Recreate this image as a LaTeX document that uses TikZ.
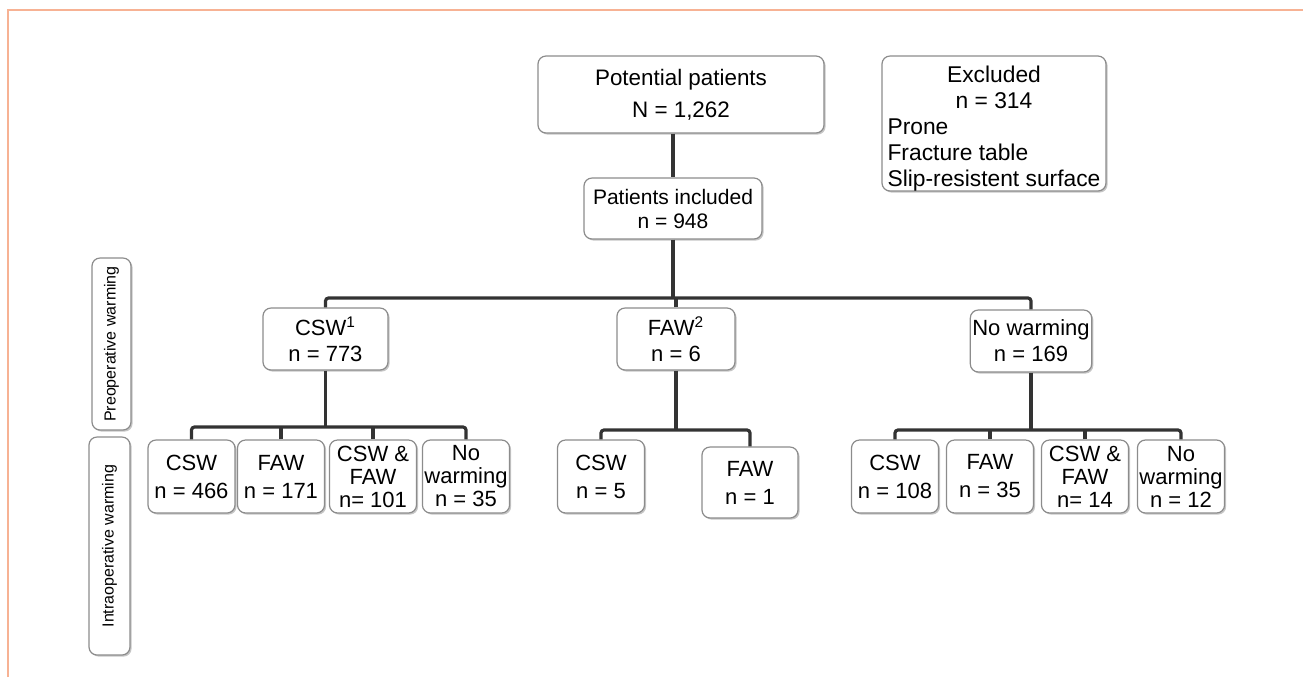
\documentclass[tikz,border=0pt]{standalone}
\usepackage{fontspec}
\setmainfont{Liberation Sans}
\usetikzlibrary{shadows}
\definecolor{framecol}{RGB}{247,178,148}

\begin{document}
\begin{tikzpicture}[x=0.5pt, y=-0.5pt,
    box/.style={draw=black!45, line width=0.6pt, fill=white, rounded corners=4pt, drop shadow={shadow xshift=0.8pt, shadow yshift=-0.8pt, opacity=0.45, fill=black!50}, align=center, inner sep=1pt, font=\fontsize{11}{13}\selectfont},
    leaf/.style={box, minimum width=43.5pt, minimum height=36.5pt, font=\fontsize{11}{14}\selectfont},
    leafthree/.style={leaf, font=\fontsize{11}{11.5}\selectfont},
    side/.style={box, rotate=90, font=\fontsize{8}{10}\selectfont},
    link/.style={draw=black!80, line width=1.6pt, rounded corners=1.5pt}
]
    \useasboundingbox (0,0) rectangle (1303,677);
    \draw[framecol, line width=1pt] (7.5,677) |- (1303,9.5);

    % top of the chart
    \node[box, minimum width=143pt, minimum height=38.5pt, font=\fontsize{11.2}{16}\selectfont] (pot) at (681,94.5) {Potential patients\\N = 1,262};
    \node[box, minimum width=112pt, minimum height=67.5pt, inner ysep=-1.8pt, font=\fontsize{11.4}{13}\selectfont] (exc) at (994,123.5) {\begin{tabular}{@{}l@{}}\multicolumn{1}{@{}c@{}}{\rule{0pt}{15pt}Excluded}\\ \multicolumn{1}{@{}c@{}}{n = 314}\\ Prone\\ Fracture table\\ Slip-resistent surface\end{tabular}};
    \node[box, minimum width=89pt, minimum height=30.5pt, font=\fontsize{10.5}{12}\selectfont] (inc) at (673,208.5) {Patients included\\n = 948};

    % preoperative warming
    \node[box, minimum width=62.5pt, minimum height=31pt] (pcsw) at (325.5,339) {CSW\textsuperscript{1}\\n = 773};
    \node[box, minimum width=59pt, minimum height=31pt] (pfaw) at (676,339) {FAW\textsuperscript{2}\\n = 6};
    \node[box, minimum width=59pt, minimum height=31pt] (pnone) at (1031,341) {No warming\\n = 169};

    % intraoperative warming
    \node[leaf] (acsw) at (191.5,476.5) {CSW\\n = 466};
    \node[leaf] (afaw) at (281,476.5) {FAW\\n = 171};
    \node[leafthree] (aboth) at (373,476.5) {CSW \&\\FAW\\n= 101};
    \node[leafthree] (anone) at (466,476.5) {No\\warming\\n = 35};

    \node[leaf] (bcsw) at (601,476.5) {CSW\\n = 5};
    \node[leaf, minimum width=48pt, minimum height=35.5pt] (bfaw) at (750,482.5) {FAW\\n = 1};

    \node[leaf] (ccsw) at (895,476.5) {CSW\\n = 108};
    \node[leaf] (cfaw) at (990,476.5) {FAW\\n = 35};
    \node[leafthree] (cboth) at (1085,476.5) {CSW \&\\FAW\\n= 14};
    \node[leafthree] (cnone) at (1181,476.5) {No\\warming\\n = 12};

    % row labels
    \node[side, minimum width=86pt, minimum height=19.5pt] (pre) at (111.5,344) {Preoperative warming};
    \node[side, minimum width=109pt, minimum height=20.5pt] (intra) at (109.5,546) {Intraoperative warming};

    % connectors
    \coordinate (bar) at (0,298);
    \coordinate (barl) at (0,427);
    \coordinate (barr) at (0,430);

    \draw[link] (pot.south -| inc.north) -- (inc.north);
    \draw[link] (inc.south) -- (inc.south |- bar);
    \draw[link] (pcsw.north) |- (pnone.north |- bar) -- (pnone.north);
    \draw[link] (pfaw.north) -- (pfaw.north |- bar);

    \draw[link] (pcsw.south) -- (pcsw.south |- barl);
    \draw[link] (acsw.north) |- (anone.north |- barl) -- (anone.north);
    \draw[link] (afaw.north) -- (afaw.north |- barl);
    \draw[link] (aboth.north) -- (aboth.north |- barl);

    \draw[link] (pfaw.south) -- (pfaw.south |- barr);
    \draw[link] (bcsw.north) |- (bfaw.north |- barr) -- (bfaw.north);

    \draw[link] (pnone.south) -- (pnone.south |- barr);
    \draw[link] (ccsw.north) |- (cnone.north |- barr) -- (cnone.north);
    \draw[link] (cfaw.north) -- (cfaw.north |- barr);
    \draw[link] (cboth.north) -- (cboth.north |- barr);
\end{tikzpicture}
\end{document}
